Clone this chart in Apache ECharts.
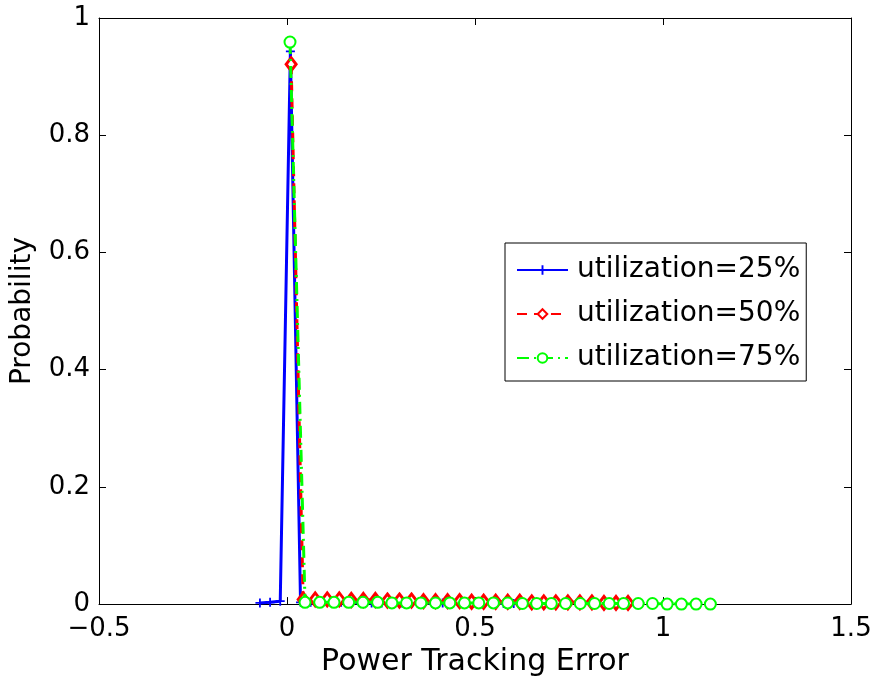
<!DOCTYPE html>
<html>
<head>
<meta charset="utf-8">
<script src="https://cdn.jsdelivr.net/npm/echarts@6/dist/echarts.min.js"></script>
<style>
  html, body { margin: 0; padding: 0; background: #fff; }
  #chart { width: 877px; height: 682px; }
</style>
</head>
<body>
<div id="chart"></div>
<script>
// 数据
var xTicks = [-0.5, 0, 0.5, 1, 1.5];
var yTicks = [0, 0.2, 0.4, 0.6, 0.8, 1];

var blueX = [-0.072, -0.045, -0.018, 0.009, 0.036, 0.063, 0.090, 0.117, 0.144, 0.171, 0.198, 0.225, 0.252, 0.279, 0.306, 0.333, 0.360, 0.387, 0.414, 0.441, 0.468, 0.495, 0.522, 0.549, 0.576, 0.603, 0.630, 0.657, 0.684];
var blueY = [0.002, 0.003, 0.005, 0.943, 0.003, 0.003, 0.003, 0.003, 0.003, 0.002, 0.003, 0.002, 0.002, 0.002, 0.002, 0.002, 0.002, 0.002, 0.002, 0.001, 0.002, 0.001, 0.001, 0.001, 0.001, 0.001, 0.001, 0.001, 0.001];

var redX = [0.011, 0.043, 0.075, 0.107, 0.139, 0.171, 0.203, 0.235, 0.267, 0.299, 0.331, 0.363, 0.395, 0.427, 0.459, 0.491, 0.523, 0.555, 0.587, 0.619, 0.651, 0.683, 0.715, 0.747, 0.779, 0.811, 0.843, 0.875, 0.907];
var redY = [0.921, 0.008, 0.008, 0.008, 0.008, 0.007, 0.007, 0.007, 0.006, 0.006, 0.006, 0.005, 0.005, 0.005, 0.005, 0.004, 0.004, 0.004, 0.004, 0.004, 0.003, 0.003, 0.003, 0.003, 0.003, 0.003, 0.002, 0.002, 0.002];

var greenX = [0.008, 0.048, 0.087, 0.125, 0.164, 0.202, 0.241, 0.279, 0.318, 0.356, 0.395, 0.433, 0.472, 0.510, 0.549, 0.587, 0.626, 0.664, 0.703, 0.741, 0.780, 0.818, 0.857, 0.895, 0.934, 0.972, 1.011, 1.049, 1.088, 1.126];
var greenY = [0.959, 0.003, 0.003, 0.003, 0.003, 0.003, 0.003, 0.002, 0.002, 0.002, 0.002, 0.002, 0.002, 0.002, 0.002, 0.002, 0.001, 0.001, 0.001, 0.001, 0.001, 0.001, 0.001, 0.001, 0.001, 0.001, 0.000, 0.000, 0.000, 0.000];

var names = ['utilization=25%', 'utilization=50%', 'utilization=75%'];

function pairs(xs, ys) {
  return xs.map(function (x, i) { return [x, ys[i]]; });
}

var FONT = 'DejaVu Sans';
var plusPath = 'path://M4,0h2v4h4v2h-4v4h-2v-4h-4v-2h4z';

var myChart = echarts.init(document.getElementById('chart'));

var baseX = {
  type: 'value', min: -0.5, max: 1.5, interval: 0.5,
  axisLine: { show: true, onZero: false, lineStyle: { color: '#000', width: 1 } },
  axisTick: { show: true, inside: true, length: 7, lineStyle: { color: '#000' } },
  splitLine: { show: false }
};
var baseY = {
  type: 'value', min: 0, max: 1, interval: 0.2,
  axisLine: { show: true, onZero: false, lineStyle: { color: '#000', width: 1 } },
  axisTick: { show: true, inside: true, length: 7, lineStyle: { color: '#000' } },
  splitLine: { show: false }
};

myChart.setOption({
  animation: false,
  backgroundColor: '#fff',
  grid: { left: 99, top: 18, width: 752, height: 588 },
  xAxis: [
    Object.assign({}, baseX, {
      position: 'bottom',
      name: 'Power Tracking Error',
      nameLocation: 'middle',
      nameGap: 41,
      nameTextStyle: { fontFamily: FONT, fontSize: 30, color: '#000' },
      axisLabel: {
        margin: 12, fontFamily: FONT, fontSize: 26, color: '#000',
        formatter: function (v) { return String(v).replace('-', '\u2212'); }
      }
    }),
    Object.assign({}, baseX, { position: 'top', axisLabel: { show: false } })
  ],
  yAxis: [
    Object.assign({}, baseY, {
      position: 'left',
      name: 'Probability',
      nameLocation: 'middle',
      nameGap: 62,
      nameTextStyle: { fontFamily: FONT, fontSize: 28, color: '#000' },
      axisLabel: { margin: 9, fontFamily: FONT, fontSize: 26, color: '#000' }
    }),
    Object.assign({}, baseY, { position: 'right', axisLabel: { show: false } })
  ],
  legend: {
    left: 505, top: 243,
    orient: 'vertical',
    backgroundColor: '#fff',
    borderColor: '#000', borderWidth: 1,
    padding: [12, 6, 8, 11],
    itemWidth: 51, itemHeight: 12, itemGap: 14,
    textStyle: { fontFamily: FONT, fontSize: 28, color: '#000', lineHeight: 30, padding: [0, 0, 0, 4] },
    data: names
  },
  series: [
    {
      name: names[0], type: 'line', data: pairs(blueX, blueY),
      symbol: plusPath, symbolSize: 9,
      itemStyle: { color: '#0000ff' },
      lineStyle: { color: '#0000ff', width: 3, type: 'solid' },
      z: 2
    },
    {
      name: names[1], type: 'line', data: pairs(redX, redY),
      symbol: 'diamond', symbolSize: [10, 13],
      itemStyle: { color: '#fff', borderColor: '#ff0000', borderWidth: 3 },
      lineStyle: { color: '#ff0000', width: 3, type: [10, 7] },
      z: 3
    },
    {
      name: names[2], type: 'line', data: pairs(greenX, greenY),
      symbol: 'emptyCircle', symbolSize: 11,
      itemStyle: { color: '#00ff00', borderColor: '#00ff00', borderWidth: 3 },
      lineStyle: { color: '#00ff00', width: 3, type: [12, 5, 2, 5] },
      z: 4
    }
  ]
});
</script>
</body>
</html>
